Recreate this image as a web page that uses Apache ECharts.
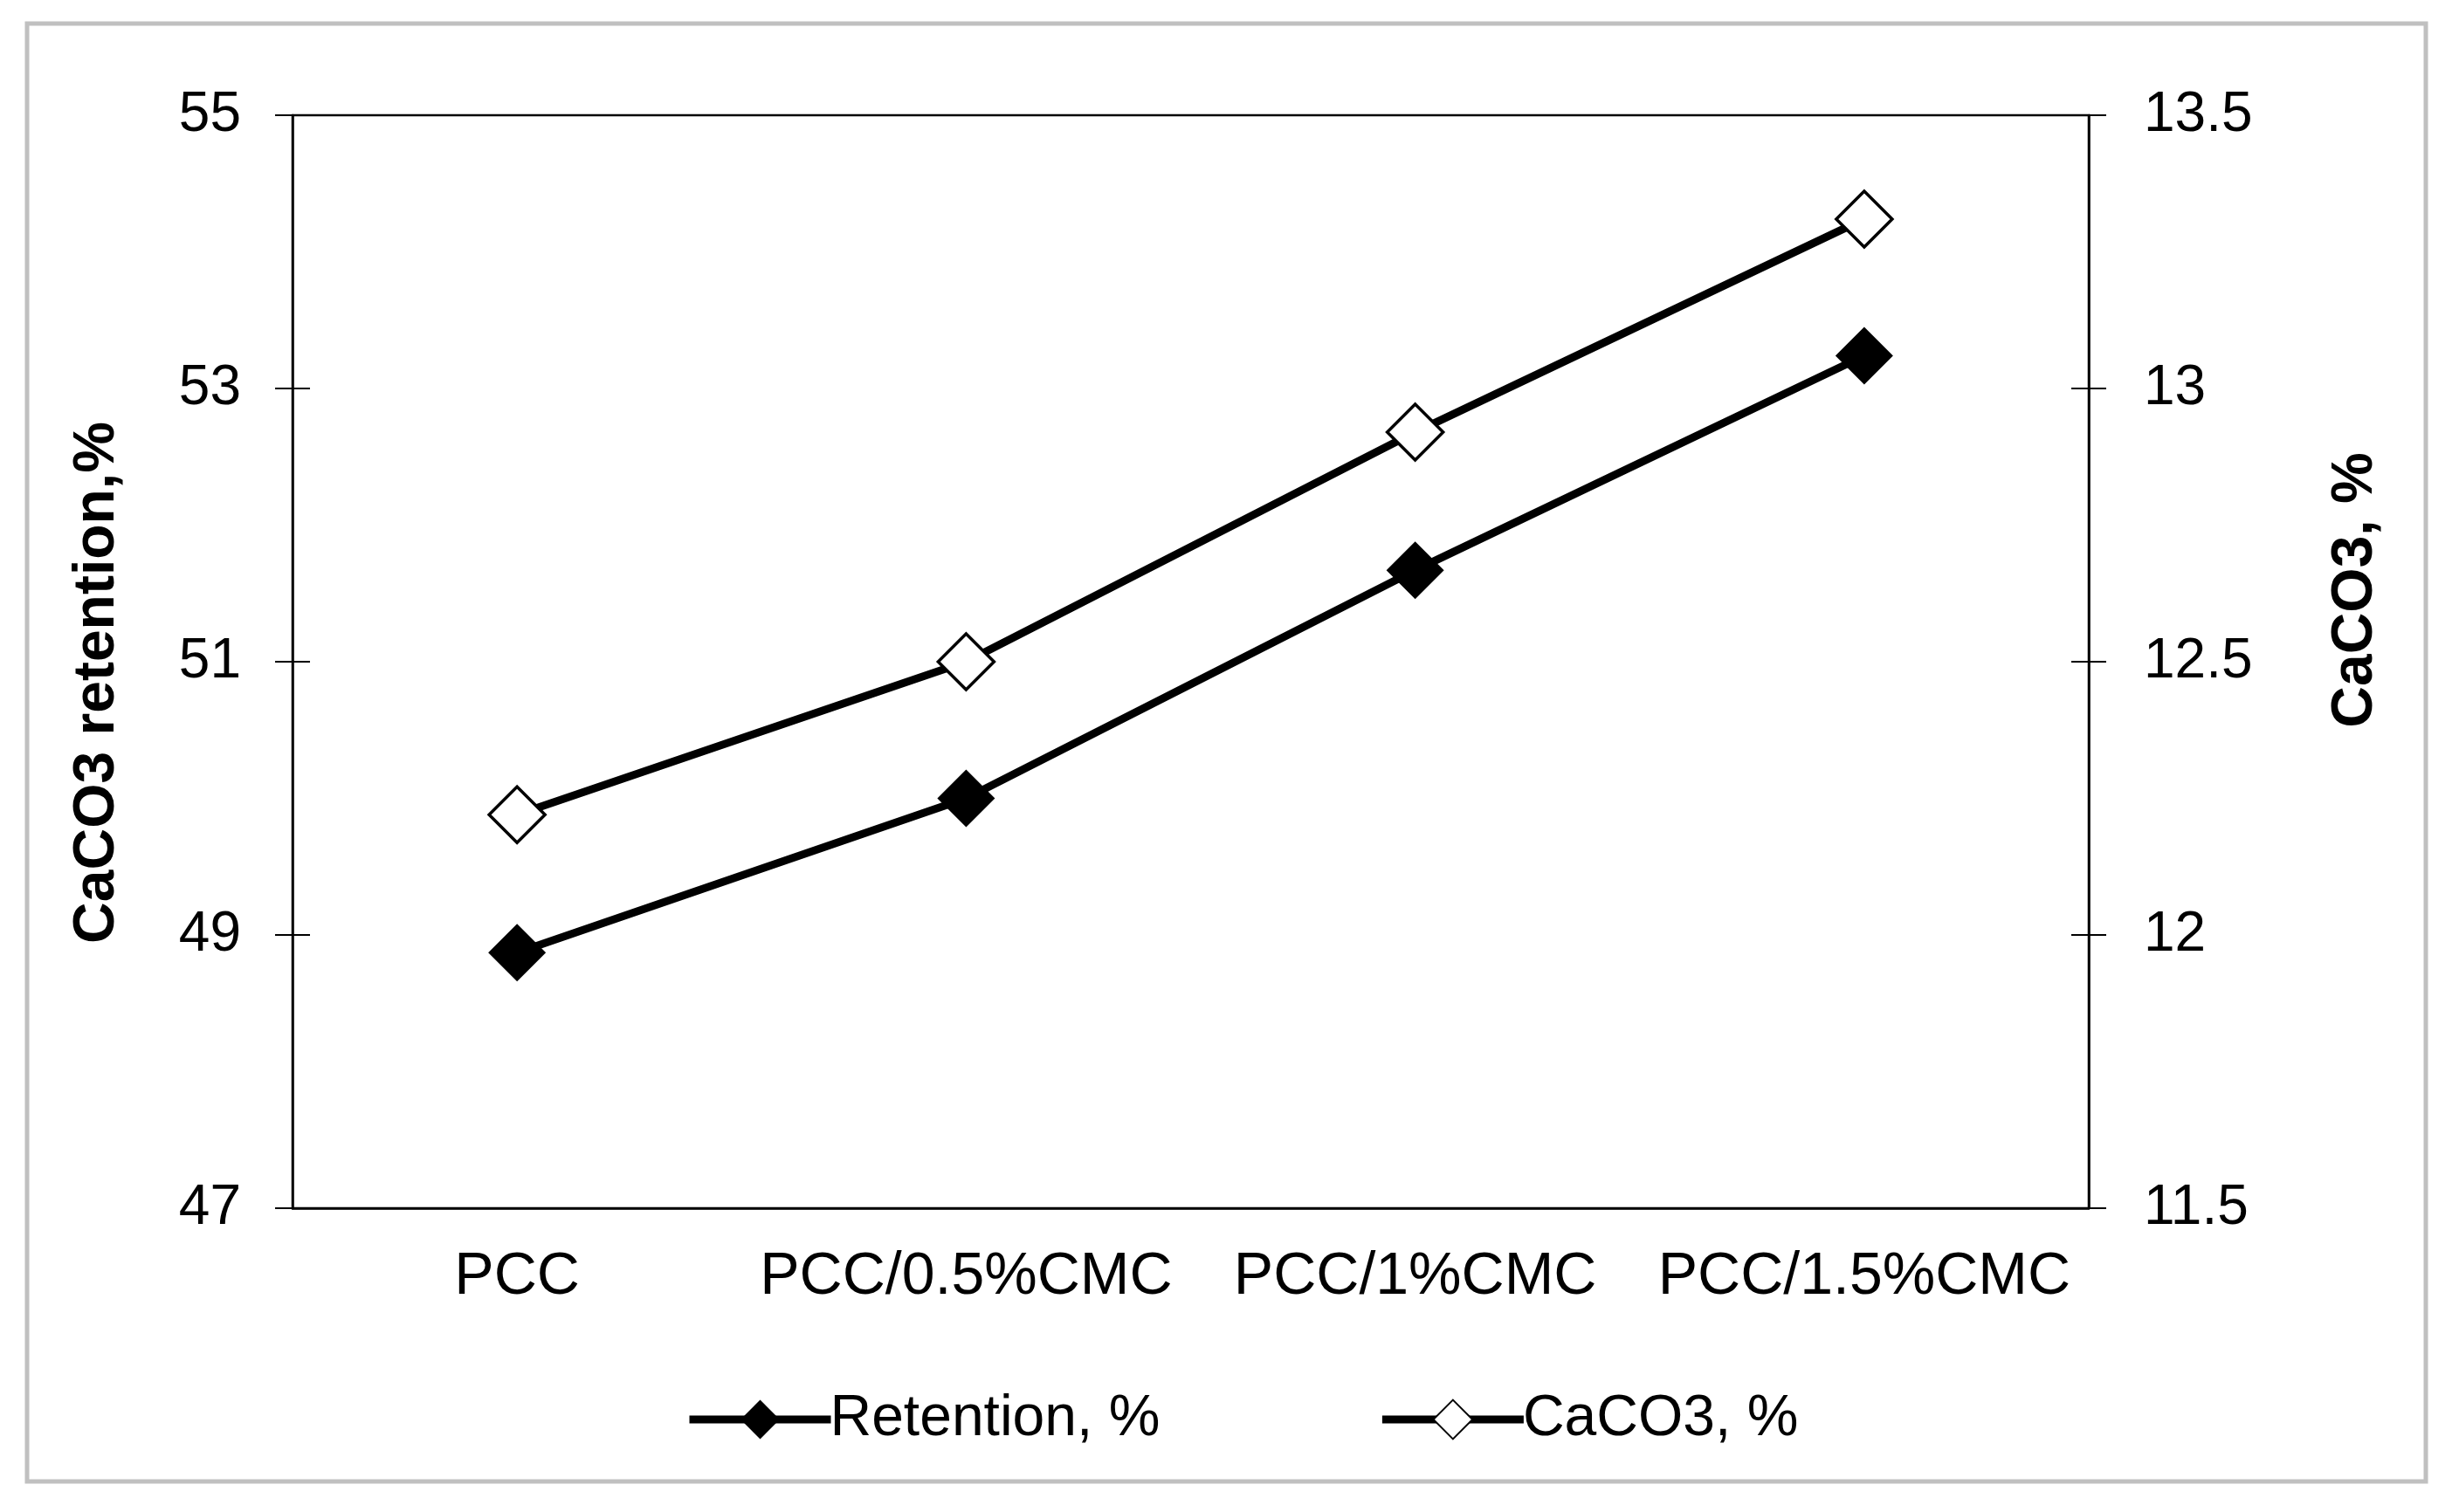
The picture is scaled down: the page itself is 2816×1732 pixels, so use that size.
<!DOCTYPE html>
<html><head><meta charset="utf-8">
<script src="https://cdn.jsdelivr.net/npm/echarts@6/dist/echarts.min.js"></script>
<style>html,body{margin:0;padding:0;background:#fff}#c{width:2816px;height:1732px}</style>
</head><body><div id="c"></div>
<script>
const categories = ['PCC', 'PCC/0.5%CMC', 'PCC/1%CMC', 'PCC/1.5%CMC'];
const retention = [48.87, 50.0, 51.67, 53.24];
const caco3 = [12.22, 12.50, 12.92, 13.31];
const leftTicks = [47, 49, 51, 53, 55];
const rightTicks = [11.5, 12, 12.5, 13, 13.5];
const leftTitle = 'CaCO3 retention,%';
const rightTitle = 'CaCO3, %';
const seriesNames = ['Retention, %', 'CaCO3, %'];

const FONT = 'Liberation Sans, Arial, sans-serif';
const chart = echarts.init(document.getElementById('c'), null, {renderer: 'canvas'});

function yAx(pos, mn, mx, ticks, inside, showLabel, margin) {
  return {
    type: 'value', position: pos, min: mn, max: mx,
    splitLine: {show: false},
    axisLine: {show: !inside, lineStyle: {color: '#000', width: 2.5}},
    axisTick: {show: true, inside: inside, length: 20, customValues: ticks, lineStyle: {color: '#000', width: 2}},
    axisLabel: {show: showLabel, customValues: ticks, margin: margin, color: '#000', fontSize: 64, fontFamily: FONT}
  };
}

chart.setOption({
  backgroundColor: '#fff',
  animation: false,
  grid: {left: 335, right: 424, top: 132, bottom: 348, show: true, borderColor: '#000', borderWidth: 2.5, backgroundColor: 'transparent'},
  xAxis: {
    type: 'category', data: categories, boundaryGap: true,
    axisLine: {lineStyle: {color: '#000', width: 2.5}},
    axisTick: {show: false},
    axisLabel: {margin: 45, color: '#000', fontSize: 68, fontFamily: FONT, interval: 0}
  },
  yAxis: [
    yAx('left', 47, 55, leftTicks, false, true, 59),
    yAx('right', 11.5, 13.5, rightTicks, false, true, 63),
    yAx('left', 47, 55, leftTicks, true, false, 8),
    yAx('right', 11.5, 13.5, rightTicks, true, false, 8)
  ],
  legend: {
    left: 780, top: 1588, itemWidth: 162, itemHeight: 56, itemGap: 250,
    lineStyle: {width: 9, color: '#000'},
    textStyle: {color: '#000', fontSize: 66, fontFamily: FONT, padding: [0, 0, 0, -6]},
    data: seriesNames
  },
  series: [
    {
      name: seriesNames[0], type: 'line', yAxisIndex: 0, data: retention,
      symbol: 'diamond', symbolSize: 66,
      lineStyle: {color: '#000', width: 9},
      itemStyle: {color: '#000', borderColor: '#000', borderWidth: 0}
    },
    {
      name: seriesNames[1], type: 'line', yAxisIndex: 1, data: caco3,
      symbol: 'diamond', symbolSize: 64,
      lineStyle: {color: '#000', width: 9},
      itemStyle: {color: '#fff', borderColor: '#000', borderWidth: 3.5}
    }
  ],
  graphic: [
    {type: 'rect', shape: {x: 31, y: 27, width: 2747, height: 1670}, style: {fill: 'none', stroke: '#c0c0c0', lineWidth: 5}, silent: true, z: -1},
    {type: 'text', x: 112, y: 782, rotation: Math.PI / 2,
     style: {text: leftTitle, fill: '#000', font: 'bold 66px ' + FONT, align: 'center', verticalAlign: 'middle'}},
    {type: 'text', x: 2698, y: 676, rotation: Math.PI / 2,
     style: {text: rightTitle, fill: '#000', font: 'bold 66px ' + FONT, align: 'center', verticalAlign: 'middle'}}
  ]
});
</script>
</body></html>
